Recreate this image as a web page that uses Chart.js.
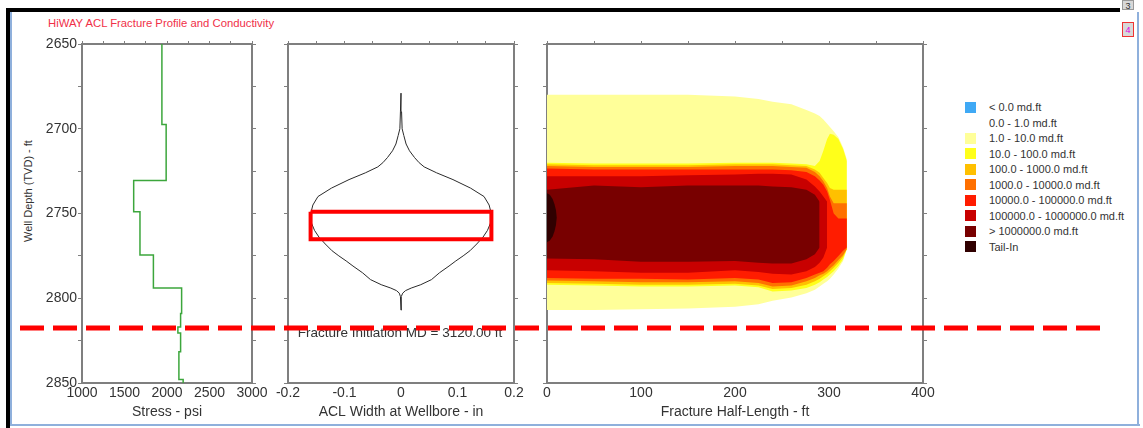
<!DOCTYPE html>
<html>
<head>
<meta charset="utf-8">
<title>HiWAY ACL Fracture Profile and Conductivity</title>
<script src="https://cdn.jsdelivr.net/npm/chart.js@4.4.0/dist/chart.umd.min.js"></script>
<style>
body { margin: 0; background: #fff; }
#wrap { position: relative; width: 1143px; height: 428px; overflow: hidden; background: #fff;
        font-family: "Liberation Sans", Arial, sans-serif; color: #333; }
.abs { position: absolute; }
.frame-black { position: absolute; background: #000; }
.frame-blue { position: absolute; background: #8fb0dc; }
#title { position: absolute; left: 48px; top: 16px; font-size: 11.3px; line-height: 14px; color: #f03048; white-space: nowrap; }
#ytitle { position: absolute; left: 28px; top: 191px; font-size: 11px; white-space: nowrap;
          transform: translate(-50%, -50%) rotate(-90deg); }
#initText { position: absolute; left: 400px; top: 332px; font-size: 13.5px; white-space: nowrap;
            transform: translate(-50%, -50%); }
.leg-box { position: absolute; width: 11px; height: 11px; }
.leg-text { position: absolute; font-size: 11px; line-height: 14px; white-space: nowrap; color: #333; }
.pager { position: absolute; left: 1122px; width: 12px; background: #d8d8d8; font-size: 9px;
         line-height: 10px; text-align: center; box-sizing: border-box; }
</style>
</head>
<body>
<div id="wrap">
  <div class="frame-black" style="left:6px;top:8px;width:1114px;height:4px"></div>
  <div class="frame-black" style="left:6px;top:8px;width:4px;height:420px"></div>
  <div class="frame-blue" style="left:10px;top:12px;width:2px;height:414px"></div>
  <div class="frame-blue" style="left:10px;top:424px;width:1130px;height:2px"></div>
  <div class="frame-blue" style="left:1137px;top:12px;width:2px;height:414px"></div>
  <div class="pager" style="top:0;height:10px;border:1px solid #999">3</div>
  <div class="pager" style="top:22px;height:15px;border:1px solid #e33;color:#e000e0;padding-top:2px">4</div>

  <div id="title">HiWAY ACL Fracture Profile and Conductivity</div>
  <div id="ytitle">Well Depth (TVD) - ft</div>

  <div class="abs" style="left:0;top:0;width:275px;height:428px"><canvas id="stressChart"></canvas></div>
  <div class="abs" style="left:262px;top:0;width:280px;height:428px"><canvas id="widthChart"></canvas></div>
  <div class="abs" style="left:520px;top:0;width:430px;height:428px"><canvas id="fracChart"></canvas></div>

  <div id="initText"></div>
  <div id="legend"></div>

  <div class="abs" style="left:0;top:0;width:1143px;height:428px;pointer-events:none"><canvas id="initChart"></canvas></div>
</div>

<script>
"use strict";

// shared depth axis (TVD, ft)
const depthMin = 2650;
const depthMax = 2850;
const depthStep = 25;

// stress profile: interval boundaries (n+1) and stress for each interval (n)
const stressDepths = [2650, 2697.5, 2730.5, 2749, 2774.5, 2794, 2809, 2817, 2820.5, 2831.5, 2848, 2850];
const stressValues = [1940, 1990, 1608, 1682, 1840, 2172, 2160, 2128, 2160, 2140, 2190];

// ACL width at wellbore (half width, in) against depth
const widthDepths = [2679, 2690, 2700, 2704, 2709, 2713, 2717, 2720, 2722.5, 2726, 2730, 2735, 2740, 2745, 2749,
                     2753, 2756, 2760, 2764, 2768, 2772, 2775, 2778, 2781, 2785, 2789, 2792, 2794, 2795.5, 2797, 2799, 2807];
const widthValues = [0, 0.001, 0.002, 0.005, 0.009, 0.015, 0.024, 0.032, 0.041, 0.063, 0.092, 0.123, 0.147, 0.156, 0.159,
                     0.16, 0.158, 0.153, 0.145, 0.134, 0.122, 0.11, 0.097, 0.085, 0.068, 0.054, 0.035, 0.018, 0.008, 0.003, 0.001, 0];

// perforated zone box
const zoneDepths = [2749, 2765.2];
const zoneWidths = [-0.16, 0.16];

// fracture initiation
const initDepth = 2817.5;
const initLabel = 'Fracture Initiation MD = 3120.00 ft';

// conductivity contours: half-length stations and top/bottom depth of each band
const halfLengths = [0, 50, 100, 150, 200, 225, 240, 260, 276, 285, 290, 294, 298, 301, 305, 310, 315, 319];

const lv1Top    = [2680, 2680, 2680, 2680, 2681, 2682.5, 2684, 2685.5, 2689, 2691, 2692.5, 2694.5, 2697, 2699, 2701.5, 2705, 2711, 2718];
const lv1Bottom = [2807, 2807, 2806.5, 2806, 2805, 2803.5, 2801.5, 2799.5, 2797, 2795, 2793, 2791.5, 2790, 2788.5, 2786, 2782.5, 2778, 2771];
const lv2Top    = [2720, 2720.5, 2720.5, 2720.5, 2720, 2720, 2720, 2720.5, 2721, 2722, 2719, 2713, 2706, 2703, 2703.5, 2706, 2712, 2719];
const lv2Bottom = [2792, 2792.5, 2793, 2793, 2792.5, 2793.5, 2796, 2795.5, 2794, 2792, 2790.5, 2789, 2787.5, 2786, 2784, 2781, 2777, 2771];
const lv3Top    = [2721, 2721.5, 2721.5, 2721.5, 2721, 2721, 2721, 2721.5, 2722, 2724, 2726, 2729, 2732, 2735, 2736, 2736, 2736, 2736];
const lv3Bottom = [2791, 2791.5, 2792, 2792, 2791.5, 2792.5, 2794.5, 2794, 2792, 2790, 2788.5, 2787, 2785.5, 2784, 2782, 2779, 2775.5, 2771];
const lv4Top    = [2722, 2722.5, 2722.5, 2722.5, 2722, 2722, 2722, 2722.5, 2723, 2725.5, 2728, 2731, 2735, 2740, 2744, 2744, 2744, 2744];
const lv4Bottom = [2789.5, 2790, 2790.5, 2790.5, 2790, 2791, 2793, 2792.5, 2790, 2788, 2786.5, 2785.5, 2784, 2782.5, 2780.5, 2777.5, 2774.5, 2771];
const lv5Top    = [2723.5, 2724, 2724, 2724, 2724, 2724, 2724, 2724.5, 2725.5, 2728, 2730.5, 2733, 2737, 2742, 2750, 2753, 2753, 2753];
const lv5Bottom = [2788, 2788.5, 2788.5, 2789, 2788, 2789, 2791, 2790.5, 2788, 2786, 2785, 2784, 2782, 2780, 2778, 2775, 2772, 2770];
const lv6Top    = [2728, 2728, 2728, 2727.5, 2727, 2726.5, 2726.5, 2727, 2730, 2734, 2737, 2740, 2743];
const lv6Bottom = [2783.5, 2784, 2785, 2785, 2783.5, 2784.5, 2785.5, 2786, 2784, 2781.5, 2779, 2776, 2770];
const lv7Top    = [2736, 2733.5, 2734.5, 2733.5, 2733.5, 2733.5, 2734, 2734.5, 2736, 2739, 2743];
const lv7Bottom = [2776.5, 2777, 2778.5, 2778.5, 2778, 2779, 2779.5, 2779.5, 2777, 2774, 2770];

const tailX      = [0, 3, 6, 8, 9.5, 10.5];
const tailTop    = [2738, 2739, 2741.5, 2744.5, 2748, 2752.5];
const tailBottom = [2767, 2766, 2763.5, 2760.5, 2757, 2752.5];

// legend
const legendLabels = ['< 0.0 md.ft', '0.0 - 1.0 md.ft', '1.0 - 10.0 md.ft', '10.0 - 100.0 md.ft',
                      '100.0 - 1000.0 md.ft', '1000.0 - 10000.0 md.ft', '10000.0 - 100000.0 md.ft',
                      '100000.0 - 1000000.0 md.ft', '> 1000000.0 md.ft', 'Tail-In'];
const legendColors = ['#3fa9f5', '#ffffff', '#ffff99', '#ffff1a', '#ffc000', '#ff7000', '#ff1c00', '#c80000', '#780000', '#300000'];

document.addEventListener('DOMContentLoaded', function() {

Chart.defaults.font.family = '"Liberation Sans", Arial, sans-serif';
Chart.defaults.color = '#333';

const axisGray = '#7f7f7f';

// one panel = box with ticks on all four sides
function panelScales(o) {
    return {
        x: {
            type: 'linear', position: 'bottom', min: o.xMin, max: o.xMax,
            ticks: { stepSize: o.xStep, autoSkip: false, maxRotation: 0, padding: 2,
                     font: { size: 14 }, color: '#333', callback: o.xLabel },
            grid: { drawOnChartArea: false, drawTicks: false },
            border: { color: axisGray, width: 2 },
            title: { display: true, text: o.xTitle, font: { size: 14 }, color: '#333', padding: { top: 0, bottom: 7 } },
            afterFit: (s) => { s.height = 45; s.paddingLeft = 0; s.paddingRight = 0; }
        },
        xTop: {
            type: 'linear', position: 'top', min: o.xMin, max: o.xMax,
            ticks: { display: false, stepSize: o.xStep, autoSkip: false },
            grid: { drawOnChartArea: false, tickLength: 3, color: axisGray },
            border: { color: axisGray, width: 2 },
            afterFit: (s) => { s.height = 44; s.paddingLeft = 0; s.paddingRight = 0; }
        },
        y: {
            type: 'linear', position: 'left', reverse: true, min: depthMin, max: depthMax,
            ticks: { display: o.yLabels, stepSize: depthStep, autoSkip: false, padding: 1,
                     font: { size: 14 }, color: '#333',
                     callback: (v) => (v % 50 === 0 ? String(v) : '') },
            grid: { drawOnChartArea: false, tickLength: 4, color: axisGray },
            border: { color: axisGray, width: 2 },
            afterFit: (s) => { s.width = o.left; s.paddingTop = 0; s.paddingBottom = 0; }
        },
        yRight: {
            type: 'linear', position: 'right', reverse: true, min: depthMin, max: depthMax,
            ticks: { display: false, stepSize: depthStep, autoSkip: false },
            grid: { drawOnChartArea: false, tickLength: 4, color: axisGray },
            border: { color: axisGray, width: 2 },
            afterFit: (s) => { s.width = o.right; s.paddingTop = 0; s.paddingBottom = 0; }
        }
    };
}

const baseOptions = (scales) => ({
    animation: false,
    responsive: true,
    maintainAspectRatio: false,
    events: [],
    elements: { point: { radius: 0 }, line: { tension: 0 } },
    plugins: { legend: { display: false }, tooltip: { enabled: false } },
    scales: scales
});

// ---- stress panel
const stressPoints = [];
stressValues.forEach((s, i) => {
    stressPoints.push({ x: s, y: stressDepths[i] }, { x: s, y: stressDepths[i + 1] });
});

new Chart(document.getElementById('stressChart'), {
    type: 'line',
    data: { datasets: [{ data: stressPoints, borderColor: '#3ca63c', borderWidth: 1.5, fill: false }] },
    options: baseOptions(panelScales({
        xMin: 1000, xMax: 3000, xStep: 250, xTitle: 'Stress - psi',
        xLabel: (v) => (v % 500 === 0 ? String(v) : ''),
        yLabels: true, left: 82, right: 23
    }))
});

// ---- width panel
const leftSide = widthDepths.map((d, i) => ({ x: -widthValues[i], y: d }));
const rightSide = widthDepths.map((d, i) => ({ x: widthValues[i], y: d })).reverse();
const zoneBox = [
    { x: zoneWidths[0], y: zoneDepths[0] }, { x: zoneWidths[1], y: zoneDepths[0] },
    { x: zoneWidths[1], y: zoneDepths[1] }, { x: zoneWidths[0], y: zoneDepths[1] },
    { x: zoneWidths[0], y: zoneDepths[0] }
];

new Chart(document.getElementById('widthChart'), {
    type: 'line',
    data: { datasets: [
        { data: zoneBox, borderColor: '#ff0000', borderWidth: 4, borderJoinStyle: 'miter', fill: false },
        { data: leftSide.concat(rightSide), borderColor: '#2a2a2a', borderWidth: 1, fill: false }
    ] },
    options: baseOptions(panelScales({
        xMin: -0.2, xMax: 0.2, xStep: 0.05, xTitle: 'ACL Width at Wellbore - in',
        xLabel: (v) => { const k = Math.round(v * 100); return k % 10 === 0 ? String(k / 100) : ''; },
        yLabels: false, left: 26, right: 28
    }))
});

// ---- conductivity contour panel
const levels = [
    { top: lv1Top, bottom: lv1Bottom, x: halfLengths, color: legendColors[2] },
    { top: lv2Top, bottom: lv2Bottom, x: halfLengths, color: legendColors[3] },
    { top: lv3Top, bottom: lv3Bottom, x: halfLengths, color: legendColors[4] },
    { top: lv4Top, bottom: lv4Bottom, x: halfLengths, color: legendColors[5] },
    { top: lv5Top, bottom: lv5Bottom, x: halfLengths, color: legendColors[6] },
    { top: lv6Top, bottom: lv6Bottom, x: halfLengths, color: legendColors[7] },
    { top: lv7Top, bottom: lv7Bottom, x: halfLengths, color: legendColors[8] },
    { top: tailTop, bottom: tailBottom, x: tailX, color: legendColors[9] }
];

const fracDatasets = [];
levels.forEach((lv, i) => {
    const order = 20 - i; // outer bands drawn first
    const pts = (ys) => ys.map((y, j) => ({ x: lv.x[j], y: y }));
    fracDatasets.push({ data: pts(lv.top), borderWidth: 0, borderColor: 'transparent', fill: false, order: order });
    fracDatasets.push({ data: pts(lv.bottom), borderWidth: 0, borderColor: 'transparent',
                        backgroundColor: lv.color, fill: '-1', order: order });
});

new Chart(document.getElementById('fracChart'), {
    type: 'line',
    data: { datasets: fracDatasets },
    options: baseOptions(panelScales({
        xMin: 0, xMax: 400, xStep: 50, xTitle: 'Fracture Half-Length - ft',
        xLabel: (v) => (v % 100 === 0 ? String(v) : ''),
        yLabels: false, left: 27, right: 27
    }))
});

// ---- fracture initiation line across all panels
document.getElementById('initText').textContent = initLabel;

new Chart(document.getElementById('initChart'), {
    type: 'line',
    data: { datasets: [{
        data: [{ x: 0, y: initDepth }, { x: 1, y: initDepth }],
        borderColor: '#ff0000', borderWidth: 5, borderDash: [24, 9], borderCapStyle: 'butt', clip: false
    }] },
    options: Object.assign(baseOptions({
        x: { type: 'linear', display: false, min: 0, max: 1 },
        y: { type: 'linear', display: false, reverse: true, min: depthMin, max: depthMax }
    }), { layout: { padding: { left: 20, right: 43, top: 44, bottom: 45 } } })
});

// ---- legend
const legend = document.getElementById('legend');
legendLabels.forEach((txt, i) => {
    const yc = 107 + i * 15.55;
    const box = document.createElement('div');
    box.className = 'leg-box';
    box.style.left = '965px';
    box.style.top = (yc - 5.5) + 'px';
    box.style.background = legendColors[i];
    legend.appendChild(box);
    const label = document.createElement('div');
    label.className = 'leg-text';
    label.style.left = '989px';
    label.style.top = (yc - 7) + 'px';
    label.textContent = txt;
    legend.appendChild(label);
});

}, false);
</script>
</body>
</html>
